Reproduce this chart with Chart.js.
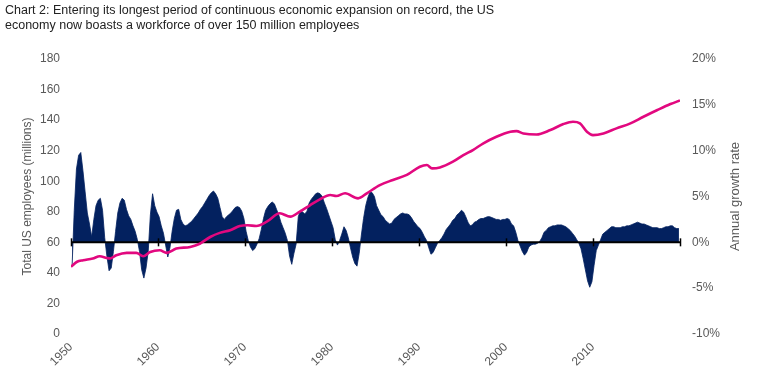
<!DOCTYPE html>
<html>
<head>
<meta charset="utf-8">
<script src="https://cdn.jsdelivr.net/npm/chart.js@4"></script>
<style>
  html, body { margin: 0; padding: 0; background: #ffffff; }
  #wrap { width: 757px; height: 380px; position: relative; }
</style>
</head>
<body>
<div id="wrap"><canvas id="c" width="757" height="380"></canvas></div>
<script>
// ---------- DATA ----------
const titleLines = [
  "Chart 2: Entering its longest period of continuous economic expansion on record, the US",
  "economy now boasts a workforce of over 150 million employees"
];
const leftAxisTitle = "Total US employees (millions)";
const rightAxisTitle = "Annual growth rate";
const startYear = 1950;
const endYear = 2020;
const decadeLabels = [1950, 1960, 1970, 1980, 1990, 2000, 2010];

// Annual growth rate (%), quarterly, 1950Q1 .. 2019Q4 (one row per year)
const growthQuarterly = [
  -2.6, 3.5, 8.0, 9.5,     // 1950
  9.8, 7.8, 5.5, 3.2,      // 1951
  2.0, 0.6, 2.5, 4.0,      // 1952
  4.6, 4.8, 3.5, 0.5,      // 1953
  -1.5, -3.1, -2.8, -1.0,  // 1954
  1.2, 3.2, 4.3, 4.8,      // 1955
  4.6, 3.6, 2.9, 2.5,      // 1956
  1.8, 1.2, 0.3, -1.0,     // 1957
  -3.0, -3.9, -2.8, -1.0,  // 1958
  3.0, 5.3, 4.0, 3.3,      // 1959
  2.8, 1.8, 1.0, -0.3,     // 1960
  -1.6, -0.6, 1.2, 2.6,    // 1961
  3.5, 3.6, 2.5, 2.0,      // 1962
  1.8, 1.9, 2.1, 2.3,      // 1963
  2.6, 2.9, 3.2, 3.6,      // 1964
  3.9, 4.3, 4.7, 5.1,      // 1965
  5.4, 5.6, 5.3, 4.8,      // 1966
  3.8, 2.8, 2.5, 2.8,      // 1967
  3.0, 3.2, 3.5, 3.8,      // 1968
  3.9, 3.8, 3.4, 2.6,      // 1969
  1.2, 0.2, -0.5, -0.9,    // 1970
  -0.7, -0.2, 0.4, 1.4,    // 1971
  2.6, 3.5, 3.9, 4.2,      // 1972
  4.4, 4.2, 3.6, 3.0,      // 1973
  2.2, 1.6, 1.0, 0.2,      // 1974
  -1.5, -2.4, -1.2, -0.2,  // 1975
  2.8, 3.5, 3.3, 3.1,      // 1976
  3.4, 4.3, 4.7, 5.0,      // 1977
  5.3, 5.4, 5.3, 5.0,      // 1978
  4.3, 3.7, 3.0, 2.3,      // 1979
  1.6, 0.3, -0.3, 0.2,     // 1980
  0.9, 1.7, 1.3, 0.5,      // 1981
  -0.6, -1.6, -2.3, -2.6,  // 1982
  -1.2, 0.8, 2.6, 4.0,     // 1983
  4.9, 5.5, 5.4, 5.0,      // 1984
  4.0, 3.5, 3.0, 2.8,      // 1985
  2.4, 2.2, 2.0, 2.1,      // 1986
  2.5, 2.7, 2.9, 3.1,      // 1987
  3.2, 3.1, 3.1, 3.0,      // 1988
  2.7, 2.3, 2.0, 1.7,      // 1989
  1.5, 1.1, 0.6, 0.2,      // 1990
  -0.6, -1.3, -1.1, -0.6,  // 1991
  -0.1, 0.2, 0.5, 0.9,     // 1992
  1.4, 1.7, 2.0, 2.4,      // 1993
  2.6, 3.0, 3.2, 3.5,      // 1994
  3.3, 2.8, 2.2, 1.8,      // 1995
  1.9, 2.2, 2.3, 2.5,      // 1996
  2.6, 2.6, 2.7, 2.8,      // 1997
  2.8, 2.7, 2.6, 2.5,      // 1998
  2.5, 2.4, 2.5, 2.5,      // 1999
  2.6, 2.5, 2.0, 1.8,      // 2000
  1.1, 0.2, -0.4, -1.0,    // 2001
  -1.4, -1.1, -0.5, -0.3,  // 2002
  -0.2, -0.2, -0.1, 0.1,   // 2003
  0.5, 1.1, 1.3, 1.6,      // 2004
  1.7, 1.8, 1.8, 1.9,      // 2005
  1.9, 1.9, 1.8, 1.7,      // 2006
  1.5, 1.3, 1.0, 0.7,      // 2007
  0.3, -0.1, -0.7, -1.8,   // 2008
  -3.0, -4.2, -4.9, -4.3,  // 2009
  -2.5, -0.9, -0.3, 0.3,   // 2010
  0.9, 1.1, 1.3, 1.5,      // 2011
  1.7, 1.7, 1.6, 1.6,      // 2012
  1.6, 1.7, 1.7, 1.8,      // 2013
  1.8, 1.9, 2.0, 2.1,      // 2014
  2.2, 2.1, 2.0, 2.0,      // 2015
  1.9, 1.8, 1.7, 1.6,      // 2016
  1.6, 1.6, 1.5, 1.5,      // 2017
  1.6, 1.7, 1.7, 1.8,      // 2018
  1.8, 1.6, 1.5, 1.5       // 2019
];

// Total US employees (millions), read at these dates
const empYears = [
  1950.0, 1950.7, 1951.4, 1952.5, 1953.3, 1954.1, 1954.5, 1955.2, 1956.4, 1957.5,
  1958.3, 1959.1, 1960.2, 1961.0, 1962.1, 1963.7, 1964.8, 1966.0, 1967.1, 1968.3,
  1969.4, 1970.3, 1971.3, 1972.5, 1974.0, 1975.2, 1976.3, 1977.5, 1978.6, 1979.8,
  1980.5, 1981.5, 1983.0, 1984.0, 1985.5, 1987.0, 1988.6, 1990.1, 1990.9, 1991.5,
  1992.4, 1993.9, 1995.1, 1996.2, 1997.4, 1998.9, 2000.5, 2001.2, 2002.0, 2003.5,
  2005.1, 2006.6, 2007.7, 2008.5, 2009.3, 2010.0, 2011.2, 2012.7, 2014.3, 2015.8,
  2017.4, 2018.9, 2020.0
];
const empValues = [
  44.0, 47.3, 48.3, 49.4, 50.9, 49.8, 49.4, 51.5, 53.1, 53.1,
  50.9, 53.7, 54.8, 53.1, 55.9, 57.0, 59.1, 63.5, 66.2, 67.9,
  70.7, 71.2, 70.7, 73.5, 79.0, 76.8, 80.1, 84.4, 88.1, 91.0,
  90.3, 92.1, 88.8, 92.1, 97.5, 100.8, 104.1, 109.5, 110.6, 108.4,
  109.0, 112.8, 117.1, 120.4, 124.8, 129.1, 132.4, 132.8, 131.3, 130.6,
  133.5, 137.4, 138.9, 137.9, 132.4, 130.2, 131.3, 134.6, 137.9, 142.2,
  146.6, 150.5, 152.9
];

// ---------- BUILD ----------
const growthPoints = growthQuarterly.map((v, i) => ({ x: startYear + i / 4 + 0.125, y: v }));
const empPoints = empYears.map((yr, i) => ({ x: yr, y: empValues[i] }));

const FONT = "'Liberation Sans', Arial, Helvetica, sans-serif";
const GREY = '#595959';
const NAVY = '#03215f';

const zeroLinePlugin = {
  id: 'zeroLine',
  afterDatasetDraw(chart, args) {
    if (args.index !== 0) return;
    const ctx = chart.ctx;
    const xs = chart.scales.x, ys = chart.scales.y2;
    const y0 = ys.getPixelForValue(0);
    ctx.save();
    ctx.strokeStyle = '#000000';
    ctx.lineWidth = 2;
    ctx.beginPath();
    ctx.moveTo(xs.getPixelForValue(startYear), y0);
    ctx.lineTo(xs.getPixelForValue(endYear), y0);
    ctx.stroke();
    ctx.lineWidth = 1.5;
    for (let yr = startYear; yr <= endYear; yr += 10) {
      const px = Math.round(xs.getPixelForValue(yr)) + 0.5;
      ctx.beginPath();
      ctx.moveTo(px, y0 - 4);
      ctx.lineTo(px, y0 + 4);
      ctx.stroke();
    }
    ctx.restore();
  }
};

const rightTitlePlugin = {
  id: 'rightTitle',
  afterDraw(chart) {
    const ctx = chart.ctx;
    const s = chart.scales.y2;
    const ca = chart.chartArea;
    ctx.save();
    ctx.translate(s.right - 22, (ca.top + ca.bottom) / 2);
    ctx.rotate(-Math.PI / 2);
    ctx.fillStyle = GREY;
    ctx.font = '13px ' + FONT;
    ctx.textAlign = 'center';
    ctx.textBaseline = 'middle';
    ctx.fillText(rightAxisTitle, 0, 0);
    ctx.restore();
  }
};

new Chart(document.getElementById('c'), {
  type: 'line',
  data: {
    datasets: [
      {
        label: 'Annual growth rate',
        data: growthPoints,
        yAxisID: 'y2',
        backgroundColor: NAVY,
        borderColor: NAVY,
        borderWidth: 0.8,
        pointRadius: 0,
        tension: 0,
        fill: { value: 0 },
        order: 2
      },
      {
        label: 'Total US employees',
        data: empPoints,
        yAxisID: 'y',
        borderColor: '#e2087f',
        borderWidth: 2.6,
        pointRadius: 0,
        tension: 0.3,
        cubicInterpolationMode: 'monotone',
        fill: false,
        order: 1
      }
    ]
  },
  plugins: [zeroLinePlugin, rightTitlePlugin],
  options: {
    responsive: false,
    animation: false,
    devicePixelRatio: 1,
    layout: { padding: { left: 5, right: 0, top: 0, bottom: 0 } },
    plugins: {
      legend: { display: false },
      tooltip: { enabled: false },
      filler: { propagate: false },
      title: {
        display: true,
        text: titleLines,
        align: 'start',
        color: '#222222',
        font: { family: FONT, size: 12.5, weight: 'normal', lineHeight: 1.2 },
        padding: { top: 3, bottom: 26 }
      }
    },
    scales: {
      x: {
        type: 'linear',
        min: startYear,
        max: endYear,
        offset: false,
        grid: { display: false, offset: false, drawTicks: false },
        border: { display: false },
        ticks: {
          stepSize: 10,
          autoSkip: false,
          minRotation: 45,
          maxRotation: 45,
          padding: 6,
          color: GREY,
          font: { family: FONT, size: 12 },
          callback: (v) => decadeLabels.includes(v) ? String(v) : ''
        },
        afterFit: (s) => { s.height = 46; }
      },
      y: {
        position: 'left',
        min: 0,
        max: 180,
        grid: { display: false, drawTicks: false },
        border: { display: false },
        ticks: { stepSize: 20, padding: 11, color: GREY, font: { family: FONT, size: 12 } },
        title: {
          display: true,
          text: leftAxisTitle,
          color: GREY,
          font: { family: FONT, size: 12 },
          padding: { top: 15, bottom: 0 }
        },
        afterFit: (s) => { s.width = 66; }
      },
      y2: {
        position: 'right',
        min: -10,
        max: 20,
        grid: { display: false, drawTicks: false },
        border: { display: false },
        ticks: {
          stepSize: 5,
          padding: 12,
          color: GREY,
          font: { family: FONT, size: 12 },
          callback: (v) => v + '%'
        },
        afterFit: (s) => { s.width = 77; }
      }
    }
  }
});
</script>
</body>
</html>
